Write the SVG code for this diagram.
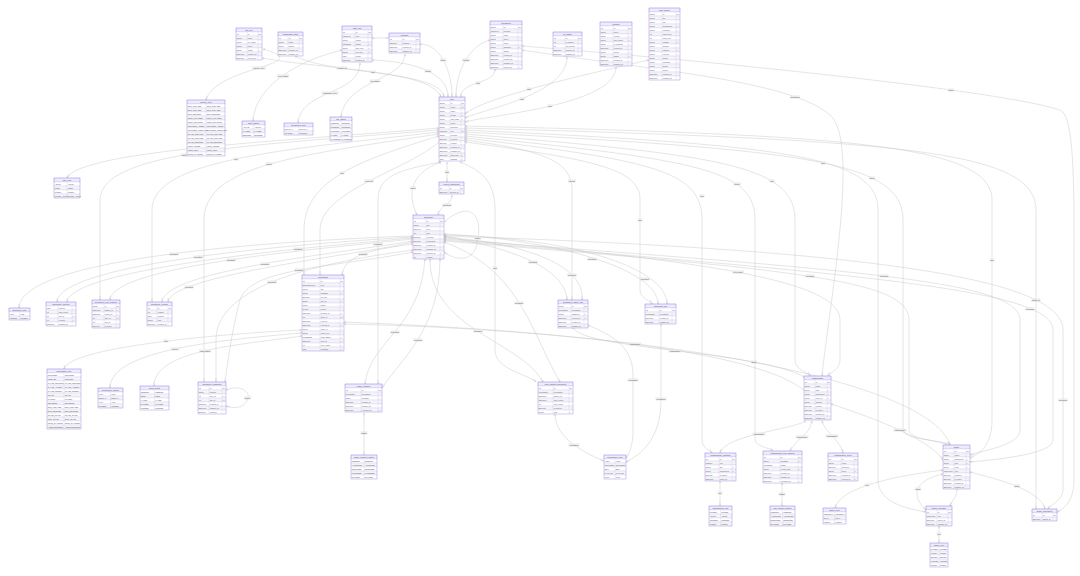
<svg xmlns="http://www.w3.org/2000/svg" width="1080" height="576" viewBox="0 0 1080 576">
<defs>
<style>
.hd{fill:#ececff;stroke:#a58be0;stroke-width:.3}
.ra{fill:#fff;stroke:#b9a4ea;stroke-width:.2}
.rb{fill:#f4f4f8;stroke:#b9a4ea;stroke-width:.2}
.cl{fill:none;stroke:#b9a4ea;stroke-width:.2}
.ob{fill:none;stroke:#9a7fdc;stroke-width:.3}
text{font-family:"Liberation Sans",Arial,sans-serif;font-size:1.8px;fill:#555}
.h{font-size:2.1px;text-anchor:middle;fill:#444}
.k{fill:#e05050}
.e{fill:none;stroke:#c4c4c4;stroke-width:.45;marker-start:url(#m1);marker-end:url(#mN)}
.lb{fill:#e8e8e8;fill-opacity:.8}
.lt{text-anchor:middle;font-size:1.9px;fill:#556}
</style>
<marker id="m1" markerUnits="userSpaceOnUse" viewBox="0 0 10 10" refX="0" refY="5" markerWidth="3" markerHeight="3" orient="auto"><path d="M3,1V9M5.5,1V9" fill="none" stroke="#aaa" stroke-width=".8"/></marker>
<marker id="mN" markerUnits="userSpaceOnUse" viewBox="0 0 14 10" refX="14" refY="5" markerWidth="4.2" markerHeight="3" orient="auto"><circle cx="4" cy="5" r="2.2" fill="#fff" stroke="#aaa" stroke-width=".7"/><path d="M14,1L8,5L14,9M8,5H14" fill="none" stroke="#aaa" stroke-width=".7"/></marker>
</defs>
<rect width="1080" height="576" fill="#fff"/>

<g id="connectors">
<path class="e" d="M263,49 C320,65 215,66 206,100"/>
<path class="e" d="M342,50 C300,60 255,85 253,121"/>
<path class="e" d="M360,63 C360,95 300,90 298,123"/>
<path class="e" d="M405,54 C405,80 345,80 341,117"/>
<path class="e" d="M262,58 C330,70 430,70 441,97"/>
<path class="e" d="M295,56 C330,75 440,70 444,97"/>
<path class="e" d="M372,60 C420,62 448,75 448,97"/>
<path class="e" d="M420,44 C440,44 452,70 452,97"/>
<path class="e" d="M490,40 C470,45 456,70 456,97"/>
<path class="e" d="M495,69 C495,85 461,80 461,97"/>
<path class="e" d="M567,57 C567,95 480,110 465,118"/>
<path class="e" d="M616,67 C616,105 490,115 465,122"/>
<path class="e" d="M372,38 L389,38"/>
<path class="e" d="M649,60 C560,80 480,100 465,114"/>
<path class="e" d="M522,50 C650,70 790,80 830,115 C860,140 830,300 822,376"/>
<path class="e" d="M522,46 C700,60 1000,90 1060,110 C1076,116 1074,200 1074,300 L1074,480 C1074,500 1065,508 1057,512"/>
<path class="e" d="M439,128 C300,140 80,150 67,178"/>
<path class="e" d="M439,130 C260,145 100,150 100,200 L100,300"/>
<path class="e" d="M439,132 C280,150 152,160 152,210 L152,302"/>
<path class="e" d="M439,134 C300,155 204,165 204,220 L204,382"/>
<path class="e" d="M439,136 C360,160 304,180 304,230 L304,275"/>
<path class="e" d="M441,140 C410,170 320,190 320,230 L320,275"/>
<path class="e" d="M447,162 L447,182"/>
<path class="e" d="M441,162 C400,170 378,175 378,200 L378,384"/>
<path class="e" d="M460,162 C480,170 495,180 495,210 L495,350 C495,370 530,375 536,382"/>
<path class="e" d="M465,140 C540,150 572,160 572,190 L572,300"/>
<path class="e" d="M465,142 C600,160 640,170 640,200 L640,290 C640,298 650,300 652,304"/>
<path class="e" d="M465,138 C650,160 702,170 702,220 L702,440 C702,448 710,450 712,453"/>
<path class="e" d="M465,136 C700,160 755,170 755,220 L755,440 C755,446 770,448 773,451"/>
<path class="e" d="M465,134 C720,155 795,165 795,220 L795,360 C795,370 808,372 810,376"/>
<path class="e" d="M465,132 C800,150 903,160 903,220 L903,430 C903,440 945,440 950,445"/>
<path class="e" d="M465,130 C780,145 878,155 878,210 L878,480 C878,505 915,510 926,512"/>
<path class="e" d="M465,128 C900,140 1036,150 1036,210 L1036,509"/>
<path class="e" d="M465,126 C850,135 992,145 992,200 L992,420 C992,450 975,455 970,458"/>
<path class="e" d="M413,236 C300,240 20,255 19,308"/>
<path class="e" d="M413,237 C310,243 60,262 57,302"/>
<path class="e" d="M413,238 C320,246 70,268 67,302"/>
<path class="e" d="M413,239 C330,248 112,265 110,300"/>
<path class="e" d="M413,241 C350,252 164,270 162,302"/>
<path class="e" d="M413,242 C360,255 170,275 168,302"/>
<path class="e" d="M413,244 C370,250 345,255 342,275"/>
<path class="e" d="M413,250 C300,265 216,290 216,340 L216,382"/>
<path class="e" d="M413,252 C330,268 250,268 240,300 C232,330 228,360 225,382"/>
<path class="e" d="M425,259 C420,330 370,340 365,384"/>
<path class="e" d="M440,259 C440,330 400,360 382,388"/>
<path class="e" d="M430,259 C430,330 520,340 543,382"/>
<path class="e" d="M444,242 C520,270 530,330 560,382"/>
<path class="e" d="M444,236 C520,250 565,270 567,300"/>
<path class="e" d="M444,237 C540,245 585,270 582,300"/>
<path class="e" d="M444,234 C560,240 658,270 658,304"/>
<path class="e" d="M444,235 C580,238 667,270 667,304"/>
<path class="e" d="M444,222 C470,200 482,215 478,238 C476,262 458,262 444,252"/>
<path class="e" d="M452,195 C452,205 440,205 438,215"/>
<path class="e" d="M441,162 C405,175 410,200 417,215"/>
<path class="e" d="M444,238 C700,260 840,280 840,320 L840,360 C840,370 830,372 828,376"/>
<path class="e" d="M444,239 C850,270 1020,280 1020,320 L1020,430 C1020,445 985,450 970,455"/>
<path class="e" d="M444,240 C870,275 1053,290 1053,330 L1053,440 C1053,455 990,460 970,462"/>
<path class="e" d="M444,236 C880,250 1063,280 1063,330 L1063,490 C1063,500 1050,505 1048,509"/>
<path class="e" d="M444,241 C800,270 909,280 909,320 L909,430 C909,440 940,440 947,445"/>
<path class="e" d="M302,330 C250,332 70,345 64,369"/>
<path class="e" d="M302,333 C220,340 110,350 110,388"/>
<path class="e" d="M302,336 C240,345 154,350 154,386"/>
<path class="e" d="M344,322 C550,330 760,350 806,392"/>
<path class="e" d="M344,324 C650,330 930,380 950,445"/>
<path class="e" d="M364,413 L364,455"/>
<path class="e" d="M226,390 C240,384 250,392 248,398 C246,406 238,410 226,406"/>
<path class="e" d="M555,414 C555,440 590,455 604,461"/>
<path class="e" d="M588,325 C610,335 633,345 633,375 L633,430 C633,448 628,455 626,458"/>
<path class="e" d="M661,324 L661,400 C661,440 640,455 626,462"/>
<path class="e" d="M573,327 C580,350 760,350 806,378"/>
<path class="e" d="M806,421 C790,430 725,435 720,453"/>
<path class="e" d="M812,421 C810,435 795,440 790,451"/>
<path class="e" d="M822,421 C825,432 840,440 843,453"/>
<path class="e" d="M831,404 C880,420 930,440 943,460"/>
<path class="e" d="M720,481 L720,506"/>
<path class="e" d="M782,483 L782,506"/>
<path class="e" d="M943,470 C880,478 840,490 835,508"/>
<path class="e" d="M943,474 C915,480 910,495 926,510"/>
<path class="e" d="M957,488 C957,498 952,500 950,506"/>
<path class="e" d="M970,472 C1000,480 1040,490 1045,509"/>
<path class="e" d="M939,526 L939,543"/>

<g id="edge-labels">
<rect class="lb" x="252" y="66.4" width="14" height="3.2"/><text class="lt" x="259" y="68.7">activity_type</text>
<rect class="lb" x="277" y="74.4" width="12" height="3.2"/><text class="lt" x="283" y="76.7">sync_status</text>
<rect class="lb" x="321.5" y="91.4" width="17" height="3.2"/><text class="lt" x="330" y="93.7">integration_type</text>
<rect class="lb" x="369.5" y="79.4" width="11" height="3.2"/><text class="lt" x="375" y="81.7">job_status</text>
<rect class="lb" x="370.5" y="70.4" width="5" height="3.2"/><text class="lt" x="373" y="72.7">user</text>
<rect class="lb" x="336.5" y="66.4" width="11" height="3.2"/><text class="lt" x="342" y="68.7">created_by</text>
<rect class="lb" x="424.5" y="69.4" width="7" height="3.2"/><text class="lt" x="428" y="71.7">author</text>
<rect class="lb" x="440" y="58.4" width="6" height="3.2"/><text class="lt" x="443" y="60.7">owner</text>
<rect class="lb" x="462" y="58.4" width="8" height="3.2"/><text class="lt" x="466" y="60.7">creator</text>
<rect class="lb" x="475.5" y="81.4" width="5" height="3.2"/><text class="lt" x="478" y="83.7">user</text>
<rect class="lb" x="519.5" y="97.4" width="5" height="3.2"/><text class="lt" x="522" y="99.7">user</text>
<rect class="lb" x="547.5" y="104.4" width="5" height="3.2"/><text class="lt" x="550" y="106.7">user</text>
<rect class="lb" x="526.5" y="87.4" width="5" height="3.2"/><text class="lt" x="529" y="89.7">user</text>
<rect class="lb" x="790" y="95.4" width="10" height="3.2"/><text class="lt" x="795" y="97.7">workspace</text>
<rect class="lb" x="948" y="88.4" width="6" height="3.2"/><text class="lt" x="951" y="90.7">owner</text>
<rect class="lb" x="203.5" y="145.4" width="5" height="3.2"/><text class="lt" x="206" y="147.7">user</text>
<rect class="lb" x="180.5" y="153.4" width="7" height="3.2"/><text class="lt" x="184" y="155.7">editor</text>
<rect class="lb" x="233.5" y="157.4" width="5" height="3.2"/><text class="lt" x="236" y="159.7">user</text>
<rect class="lb" x="265.5" y="162.4" width="7" height="3.2"/><text class="lt" x="269" y="164.7">author</text>
<rect class="lb" x="339.5" y="171.4" width="5" height="3.2"/><text class="lt" x="342" y="173.7">user</text>
<rect class="lb" x="364" y="179.4" width="10" height="3.2"/><text class="lt" x="369" y="181.7">recipient</text>
<rect class="lb" x="444.5" y="170.4" width="5" height="3.2"/><text class="lt" x="447" y="172.7">user</text>
<rect class="lb" x="373" y="242.4" width="10" height="3.2"/><text class="lt" x="378" y="244.7">requester</text>
<rect class="lb" x="492.5" y="266.4" width="5" height="3.2"/><text class="lt" x="495" y="268.7">user</text>
<rect class="lb" x="568" y="179.4" width="8" height="3.2"/><text class="lt" x="572" y="181.7">creator</text>
<rect class="lb" x="637.5" y="218.4" width="5" height="3.2"/><text class="lt" x="640" y="220.7">user</text>
<rect class="lb" x="699.5" y="194.4" width="5" height="3.2"/><text class="lt" x="702" y="196.7">user</text>
<rect class="lb" x="733" y="182.4" width="8" height="3.2"/><text class="lt" x="737" y="184.7">inviter</text>
<rect class="lb" x="769.5" y="179.4" width="5" height="3.2"/><text class="lt" x="772" y="181.7">user</text>
<rect class="lb" x="869" y="176.4" width="6" height="3.2"/><text class="lt" x="872" y="178.7">owner</text>
<rect class="lb" x="820.5" y="161.4" width="5" height="3.2"/><text class="lt" x="823" y="163.7">user</text>
<rect class="lb" x="1031.5" y="298.4" width="9" height="3.2"/><text class="lt" x="1036" y="300.7">added_by</text>
<rect class="lb" x="989.5" y="258.4" width="5" height="3.2"/><text class="lt" x="992" y="260.7">user</text>
<rect class="lb" x="169.5" y="252.4" width="9" height="3.2"/><text class="lt" x="174" y="254.7">document</text>
<rect class="lb" x="193.5" y="255.4" width="9" height="3.2"/><text class="lt" x="198" y="257.7">document</text>
<rect class="lb" x="293.5" y="247.4" width="9" height="3.2"/><text class="lt" x="298" y="249.7">document</text>
<rect class="lb" x="226.5" y="258.4" width="9" height="3.2"/><text class="lt" x="231" y="260.7">document</text>
<rect class="lb" x="260.5" y="262.4" width="9" height="3.2"/><text class="lt" x="265" y="264.7">document</text>
<rect class="lb" x="184.5" y="285.4" width="9" height="3.2"/><text class="lt" x="189" y="287.7">document</text>
<rect class="lb" x="358.5" y="252.4" width="9" height="3.2"/><text class="lt" x="363" y="254.7">document</text>
<rect class="lb" x="267.5" y="280.4" width="9" height="3.2"/><text class="lt" x="272" y="282.7">document</text>
<rect class="lb" x="294.5" y="268.4" width="9" height="3.2"/><text class="lt" x="299" y="270.7">document</text>
<rect class="lb" x="390.5" y="330.4" width="9" height="3.2"/><text class="lt" x="395" y="332.7">document</text>
<rect class="lb" x="413.5" y="338.4" width="9" height="3.2"/><text class="lt" x="418" y="340.7">document</text>
<rect class="lb" x="473.5" y="329.4" width="9" height="3.2"/><text class="lt" x="478" y="331.7">document</text>
<rect class="lb" x="514.5" y="301.4" width="9" height="3.2"/><text class="lt" x="519" y="303.7">document</text>
<rect class="lb" x="528.5" y="260.4" width="9" height="3.2"/><text class="lt" x="533" y="262.7">document</text>
<rect class="lb" x="567.5" y="273.4" width="9" height="3.2"/><text class="lt" x="572" y="275.7">document</text>
<rect class="lb" x="587.5" y="257.4" width="9" height="3.2"/><text class="lt" x="592" y="259.7">document</text>
<rect class="lb" x="640.5" y="277.4" width="9" height="3.2"/><text class="lt" x="645" y="279.7">document</text>
<rect class="lb" x="474" y="236.4" width="7" height="3.2"/><text class="lt" x="477.5" y="238.7">parent</text>
<rect class="lb" x="442.5" y="203.4" width="9" height="3.2"/><text class="lt" x="447" y="205.7">document</text>
<rect class="lb" x="410" y="186.4" width="6" height="3.2"/><text class="lt" x="413" y="188.7">owner</text>
<rect class="lb" x="732" y="270.4" width="12" height="3.2"/><text class="lt" x="738" y="272.7">root_folder</text>
<rect class="lb" x="879.5" y="274.4" width="9" height="3.2"/><text class="lt" x="884" y="276.7">document</text>
<rect class="lb" x="1025.5" y="307.4" width="9" height="3.2"/><text class="lt" x="1030" y="309.7">document</text>
<rect class="lb" x="1058.5" y="398.4" width="9" height="3.2"/><text class="lt" x="1063" y="400.7">document</text>
<rect class="lb" x="805.5" y="274.4" width="9" height="3.2"/><text class="lt" x="810" y="276.7">document</text>
<rect class="lb" x="163.5" y="339.4" width="5" height="3.2"/><text class="lt" x="166" y="341.7">type</text>
<rect class="lb" x="170.5" y="347.4" width="9" height="3.2"/><text class="lt" x="175" y="349.7">priority</text>
<rect class="lb" x="199" y="349.4" width="12" height="3.2"/><text class="lt" x="205" y="351.7">push_status</text>
<rect class="lb" x="628.5" y="342.4" width="13" height="3.2"/><text class="lt" x="635" y="344.7">organization</text>
<rect class="lb" x="751" y="360.4" width="6" height="3.2"/><text class="lt" x="754" y="362.7">space</text>
<rect class="lb" x="360.5" y="431.4" width="7" height="3.2"/><text class="lt" x="364" y="433.7">status</text>
<rect class="lb" x="244" y="396.4" width="7" height="3.2"/><text class="lt" x="247.5" y="398.7">parent</text>
<rect class="lb" x="568.5" y="443.4" width="11" height="3.2"/><text class="lt" x="574" y="445.7">permission</text>
<rect class="lb" x="627.5" y="378.4" width="11" height="3.2"/><text class="lt" x="633" y="380.7">permission</text>
<rect class="lb" x="655.5" y="397.4" width="11" height="3.2"/><text class="lt" x="661" y="399.7">permission</text>
<rect class="lb" x="668.5" y="349.4" width="13" height="3.2"/><text class="lt" x="675" y="351.7">organization</text>
<rect class="lb" x="752.5" y="432.4" width="13" height="3.2"/><text class="lt" x="759" y="434.7">organization</text>
<rect class="lb" x="795.5" y="435.4" width="13" height="3.2"/><text class="lt" x="802" y="437.7">organization</text>
<rect class="lb" x="825.5" y="434.4" width="13" height="3.2"/><text class="lt" x="832" y="436.7">organization</text>
<rect class="lb" x="893.5" y="428.4" width="13" height="3.2"/><text class="lt" x="900" y="430.7">organization</text>
<rect class="lb" x="717.5" y="491.4" width="5" height="3.2"/><text class="lt" x="720" y="493.7">role</text>
<rect class="lb" x="778.5" y="492.4" width="7" height="3.2"/><text class="lt" x="782" y="494.7">status</text>
<rect class="lb" x="864.5" y="483.4" width="5" height="3.2"/><text class="lt" x="867" y="485.7">type</text>
<rect class="lb" x="915" y="487.4" width="6" height="3.2"/><text class="lt" x="918" y="489.7">space</text>
<rect class="lb" x="1014" y="484.4" width="6" height="3.2"/><text class="lt" x="1017" y="486.7">space</text>
<rect class="lb" x="936.5" y="532.4" width="5" height="3.2"/><text class="lt" x="939" y="534.7">role</text>
</g>
</g>

<g id="user" transform="translate(439,97)">
<rect class="hd" width="26" height="4"/><text class="h" x="13" y="3">user</text>
<rect class="ra" y="4" width="26" height="4"/><text x=".8" y="6.9">String</text><text x="11.8" y="6.9">id</text><text x="22.6" y="6.9">PK</text>
<rect class="rb" y="8" width="26" height="4"/><text x=".8" y="10.9">String</text><text x="11.8" y="10.9">email</text><text class="k" x="22.6" y="10.9">UK</text>
<rect class="ra" y="12" width="26" height="4"/><text x=".8" y="14.9">String</text><text x="11.8" y="14.9">name</text>
<rect class="rb" y="16" width="26" height="4"/><text x=".8" y="18.9">String</text><text x="11.8" y="18.9">avatar</text><text class="k" x="22.6" y="18.9">?</text>
<rect class="ra" y="20" width="26" height="4"/><text x=".8" y="22.9">String</text><text x="11.8" y="22.9">pwd_hash</text><text class="k" x="22.6" y="22.9">?</text>
<rect class="rb" y="24" width="26" height="4"/><text x=".8" y="26.9">String</text><text x="11.8" y="26.9">locale</text>
<rect class="ra" y="28" width="26" height="4"/><text x=".8" y="30.9">String</text><text x="11.8" y="30.9">timezone</text>
<rect class="rb" y="32" width="26" height="4"/><text x=".8" y="34.9">UserRole</text><text x="11.8" y="34.9">role</text><text class="k" x="22.6" y="34.9">FK</text>
<rect class="ra" y="36" width="26" height="4"/><text x=".8" y="38.9">String</text><text x="11.8" y="38.9">provider</text>
<rect class="rb" y="40" width="26" height="4"/><text x=".8" y="42.9">Boolean</text><text x="11.8" y="42.9">is_active</text>
<rect class="ra" y="44" width="26" height="4"/><text x=".8" y="46.9">Boolean</text><text x="11.8" y="46.9">verified</text>
<rect class="rb" y="48" width="26" height="4"/><text x=".8" y="50.9">DateTime</text><text x="11.8" y="50.9">created_at</text>
<rect class="ra" y="52" width="26" height="4"/><text x=".8" y="54.9">DateTime</text><text x="11.8" y="54.9">updated_at</text>
<rect class="rb" y="56" width="26" height="4"/><text x=".8" y="58.9">DateTime</text><text x="11.8" y="58.9">last_login</text><text class="k" x="22.6" y="58.9">?</text>
<rect class="ra" y="60" width="26" height="4"/><text x=".8" y="62.9">Json</text><text x="11.8" y="62.9">settings</text><text class="k" x="22.6" y="62.9">?</text>
<path class="cl" d="M11,4V64M22,4V64"/><rect class="ob" width="26" height="64"/>
</g>

<g id="document" transform="translate(413,215)">
<rect class="hd" width="31" height="4"/><text class="h" x="15.5" y="3">document</text>
<rect class="ra" y="4" width="31" height="4"/><text x=".8" y="6.9">Int</text><text x="13.8" y="6.9">id</text><text x="27.6" y="6.9">PK</text>
<rect class="rb" y="8" width="31" height="4"/><text x=".8" y="10.9">String</text><text x="13.8" y="10.9">title</text>
<rect class="ra" y="12" width="31" height="4"/><text x=".8" y="14.9">DocType</text><text x="13.8" y="14.9">type</text>
<rect class="rb" y="16" width="31" height="4"/><text x=".8" y="18.9">Int</text><text x="13.8" y="18.9">size</text>
<rect class="ra" y="20" width="31" height="4"/><text x=".8" y="22.9">Boolean</text><text x="13.8" y="22.9">is_folder</text>
<rect class="rb" y="24" width="31" height="4"/><text x=".8" y="26.9">Boolean</text><text x="13.8" y="26.9">is_deleted</text>
<rect class="ra" y="28" width="31" height="4"/><text x=".8" y="30.9">DateTime</text><text x="13.8" y="30.9">created_at</text>
<rect class="rb" y="32" width="31" height="4"/><text x=".8" y="34.9">DateTime</text><text x="13.8" y="34.9">updated_at</text>
<rect class="ra" y="36" width="31" height="4"/><text x=".8" y="38.9">DateTime</text><text x="13.8" y="38.9">deleted_at</text><text class="k" x="27.6" y="38.9">?</text>
<rect class="rb" y="40" width="31" height="4"/><text x=".8" y="42.9">Int</text><text x="13.8" y="42.9">version</text>
<path class="cl" d="M13,4V44M27,4V44"/><rect class="ob" width="31" height="44"/>
</g>

<g id="recent_document" transform="translate(439,182)">
<rect class="hd" width="25" height="4"/><text class="h" x="12.5" y="3">recent_document</text>
<rect class="ra" y="4" width="25" height="4"/><text x=".8" y="6.9">Int</text><text x="10.8" y="6.9">id</text><text x="21.6" y="6.9">PK</text>
<rect class="rb" y="8" width="25" height="4"/><text x=".8" y="10.9">DateTime</text><text x="10.8" y="10.9">opened_at</text>
<path class="cl" d="M10,4V12M21,4V12"/><rect class="ob" width="25" height="12"/>
</g>

<g id="notification" transform="translate(302,275)">
<rect class="hd" width="42" height="4"/><text class="h" x="21" y="3">notification</text>
<rect class="ra" y="4" width="42" height="4"/><text x=".8" y="6.9">Int</text><text x="18.8" y="6.9">id</text><text x="38.6" y="6.9">PK</text>
<rect class="rb" y="8" width="42" height="4"/><text x=".8" y="10.9">NotificationType</text><text x="18.8" y="10.9">type</text>
<rect class="ra" y="12" width="42" height="4"/><text x=".8" y="14.9">String</text><text x="18.8" y="14.9">title</text>
<rect class="rb" y="16" width="42" height="4"/><text x=".8" y="18.9">String</text><text x="18.8" y="18.9">message</text><text class="k" x="38.6" y="18.9">?</text>
<rect class="ra" y="20" width="42" height="4"/><text x=".8" y="22.9">Boolean</text><text x="18.8" y="22.9">is_read</text>
<rect class="rb" y="24" width="42" height="4"/><text x=".8" y="26.9">String</text><text x="18.8" y="26.9">link_url</text><text class="k" x="38.6" y="26.9">?</text>
<rect class="ra" y="28" width="42" height="4"/><text x=".8" y="30.9">String</text><text x="18.8" y="30.9">action</text><text class="k" x="38.6" y="30.9">?</text>
<rect class="rb" y="32" width="42" height="4"/><text x=".8" y="34.9">Priority</text><text x="18.8" y="34.9">priority</text>
<rect class="ra" y="36" width="42" height="4"/><text x=".8" y="38.9">DateTime</text><text x="18.8" y="38.9">created_at</text><text class="k" x="38.6" y="38.9">?</text>
<rect class="rb" y="40" width="42" height="4"/><text x=".8" y="42.9">Int</text><text x="18.8" y="42.9">actor_id</text><text class="k" x="38.6" y="42.9">FK</text>
<rect class="ra" y="44" width="42" height="4"/><text x=".8" y="46.9">DateTime</text><text x="18.8" y="46.9">read_at</text>
<rect class="rb" y="48" width="42" height="4"/><text x=".8" y="50.9">DateTime</text><text x="18.8" y="50.9">expires_at</text><text class="k" x="38.6" y="50.9">?</text>
<rect class="ra" y="52" width="42" height="4"/><text x=".8" y="54.9">String</text><text x="18.8" y="54.9">entity_id</text><text class="k" x="38.6" y="54.9">?</text>
<rect class="rb" y="56" width="42" height="4"/><text x=".8" y="58.9">String</text><text x="18.8" y="58.9">entity_type</text>
<rect class="ra" y="60" width="42" height="4"/><text x=".8" y="62.9">PushStatus</text><text x="18.8" y="62.9">push_status</text><text class="k" x="38.6" y="62.9">?</text>
<rect class="rb" y="64" width="42" height="4"/><text x=".8" y="66.9">DateTime</text><text x="18.8" y="66.9">sent_at</text><text class="k" x="38.6" y="66.9">?</text>
<rect class="ra" y="68" width="42" height="4"/><text x=".8" y="70.9">Int</text><text x="18.8" y="70.9">retry_count</text><text class="k" x="38.6" y="70.9">?</text>
<rect class="rb" y="72" width="42" height="4"/><text x=".8" y="74.9">Json</text><text x="18.8" y="74.9">metadata</text><text class="k" x="38.6" y="74.9">?</text>
<path class="cl" d="M18,4V76M38,4V76"/><rect class="ob" width="42" height="76"/>
</g>

<g id="document_type" transform="translate(9,308)">
<rect class="hd" width="21" height="4"/><text class="h" x="10.5" y="3">document_type</text>
<rect class="ra" y="4" width="21" height="4"/><text x=".8" y="6.9">FILE</text><text x="11.3" y="6.9">FILE</text>
<rect class="rb" y="8" width="21" height="4"/><text x=".8" y="10.9">FOLDER</text><text x="11.3" y="10.9">FOLDER</text>
<path class="cl" d="M10.5,4V12"/><rect class="ob" width="21" height="12"/>
</g>

<g id="document_content" transform="translate(46,302)">
<rect class="hd" width="30" height="4"/><text class="h" x="15" y="3">document_content</text>
<rect class="ra" y="4" width="30" height="4"/><text x=".8" y="6.9">Json</text><text x="12.8" y="6.9">content</text>
<rect class="rb" y="8" width="30" height="4"/><text x=".8" y="10.9">Int</text><text x="12.8" y="10.9">char_count</text>
<rect class="ra" y="12" width="30" height="4"/><text x=".8" y="14.9">Int</text><text x="12.8" y="14.9">doc_id</text><text class="k" x="26.6" y="14.9">FK</text>
<rect class="rb" y="16" width="30" height="4"/><text x=".8" y="18.9">Int</text><text x="12.8" y="18.9">revision</text><text class="k" x="26.6" y="18.9">?</text>
<rect class="ra" y="20" width="30" height="4"/><text x=".8" y="22.9">DateTime</text><text x="12.8" y="22.9">updated_at</text>
<path class="cl" d="M12,4V24M26,4V24"/><rect class="ob" width="30" height="24"/>
</g>

<g id="document_edit_session" transform="translate(92,300)">
<rect class="hd" width="28" height="4"/><text class="h" x="14" y="3">document_edit_session</text>
<rect class="ra" y="4" width="28" height="4"/><text x=".8" y="6.9">String</text><text x="12.8" y="6.9">id</text><text x="24.6" y="6.9">PK</text>
<rect class="rb" y="8" width="28" height="4"/><text x=".8" y="10.9">DateTime</text><text x="12.8" y="10.9">started_at</text><text class="k" x="24.6" y="10.9">?</text>
<rect class="ra" y="12" width="28" height="4"/><text x=".8" y="14.9">DateTime</text><text x="12.8" y="14.9">ended_at</text><text class="k" x="24.6" y="14.9">?</text>
<rect class="rb" y="16" width="28" height="4"/><text x=".8" y="18.9">Int</text><text x="12.8" y="18.9">user_id</text><text class="k" x="24.6" y="18.9">FK</text>
<rect class="ra" y="20" width="28" height="4"/><text x=".8" y="22.9">Int</text><text x="12.8" y="22.9">doc_id</text>
<rect class="rb" y="24" width="28" height="4"/><text x=".8" y="26.9">Boolean</text><text x="12.8" y="26.9">is_active</text>
<path class="cl" d="M12,4V28M24,4V28"/><rect class="ob" width="28" height="28"/>
</g>

<g id="document_version" transform="translate(147,302)">
<rect class="hd" width="25" height="4"/><text class="h" x="12.5" y="3">document_version</text>
<rect class="ra" y="4" width="25" height="4"/><text x=".8" y="6.9">Int</text><text x="10.8" y="6.9">id</text><text x="21.6" y="6.9">PK</text>
<rect class="rb" y="8" width="25" height="4"/><text x=".8" y="10.9">Int</text><text x="10.8" y="10.9">version</text>
<rect class="ra" y="12" width="25" height="4"/><text x=".8" y="14.9">Json</text><text x="10.8" y="14.9">content</text>
<rect class="rb" y="16" width="25" height="4"/><text x=".8" y="18.9">String</text><text x="10.8" y="18.9">note</text>
<rect class="ra" y="20" width="25" height="4"/><text x=".8" y="22.9">DateTime</text><text x="10.8" y="22.9">created_at</text>
<path class="cl" d="M10,4V24M21,4V24"/><rect class="ob" width="25" height="24"/>
</g>

<g id="user_role" transform="translate(54,178)">
<rect class="hd" width="26" height="4"/><text class="h" x="13" y="3">user_role</text>
<rect class="ra" y="4" width="26" height="4"/><text x=".8" y="6.9">ADMIN</text><text x="13.8" y="6.9">ADMIN</text>
<rect class="rb" y="8" width="26" height="4"/><text x=".8" y="10.9">USER</text><text x="13.8" y="10.9">USER</text>
<rect class="ra" y="12" width="26" height="4"/><text x=".8" y="14.9">GUEST</text><text x="13.8" y="14.9">GUEST</text>
<rect class="rb" y="16" width="26" height="4"/><text x=".8" y="18.9">SUPER_ADMIN</text><text x="13.8" y="18.9">SUPER_ADMIN</text>
<path class="cl" d="M13,4V20"/><rect class="ob" width="26" height="20"/>
</g>

<g id="activity_type" transform="translate(187,100)">
<rect class="hd" width="38" height="4"/><text class="h" x="19" y="3">activity_type</text>
<rect class="ra" y="4" width="38" height="4"/><text x=".8" y="6.9">DOC_CREATED</text><text x="19.8" y="6.9">DOC_CREATED</text>
<rect class="rb" y="8" width="38" height="4"/><text x=".8" y="10.9">DOC_UPDATED</text><text x="19.8" y="10.9">DOC_UPDATED</text>
<rect class="ra" y="12" width="38" height="4"/><text x=".8" y="14.9">DOC_DELETED</text><text x="19.8" y="14.9">DOC_DELETED</text>
<rect class="rb" y="16" width="38" height="4"/><text x=".8" y="18.9">PERM_GRANTED</text><text x="19.8" y="18.9">PERM_GRANTED</text>
<rect class="ra" y="20" width="38" height="4"/><text x=".8" y="22.9">PERM_REVOKED</text><text x="19.8" y="22.9">PERM_REVOKED</text>
<rect class="rb" y="24" width="38" height="4"/><text x=".8" y="26.9">COMMENT_ADDED</text><text x="19.8" y="26.9">COMMENT_ADDED</text>
<rect class="ra" y="28" width="38" height="4"/><text x=".8" y="30.9">COMMENT_RESOLVED</text><text x="19.8" y="30.9">COMMENT_RESOLVED</text>
<rect class="rb" y="32" width="38" height="4"/><text x=".8" y="34.9">SPACE_CREATED</text><text x="19.8" y="34.9">SPACE_CREATED</text>
<rect class="ra" y="36" width="38" height="4"/><text x=".8" y="38.9">SPACE_UPDATED</text><text x="19.8" y="38.9">SPACE_UPDATED</text>
<rect class="rb" y="40" width="38" height="4"/><text x=".8" y="42.9">SPACE_DELETED</text><text x="19.8" y="42.9">SPACE_DELETED</text>
<rect class="ra" y="44" width="38" height="4"/><text x=".8" y="46.9">USER_JOINED</text><text x="19.8" y="46.9">USER_JOINED</text>
<rect class="rb" y="48" width="38" height="4"/><text x=".8" y="50.9">USER_LEFT</text><text x="19.8" y="50.9">USER_LEFT</text>
<rect class="ra" y="52" width="38" height="4"/><text x=".8" y="54.9">ROLE_CHANGED</text><text x="19.8" y="54.9">ROLE_CHANGED</text>
<path class="cl" d="M19,4V56"/><rect class="ob" width="38" height="56"/>
</g>

<g id="sync_status" transform="translate(242,121)">
<rect class="hd" width="23" height="4"/><text class="h" x="11.5" y="3">sync_status</text>
<rect class="ra" y="4" width="23" height="4"/><text x=".8" y="6.9">ACTIVE</text><text x="12.3" y="6.9">ACTIVE</text>
<rect class="rb" y="8" width="23" height="4"/><text x=".8" y="10.9">PAUSED</text><text x="12.3" y="10.9">PAUSED</text>
<rect class="ra" y="12" width="23" height="4"/><text x=".8" y="14.9">DELETED</text><text x="12.3" y="14.9">DELETED</text>
<path class="cl" d="M11.5,4V16"/><rect class="ob" width="23" height="16"/>
</g>

<g id="integration_type" transform="translate(284,123)">
<rect class="hd" width="29" height="4"/><text class="h" x="14.5" y="3">integration_type</text>
<rect class="ra" y="4" width="29" height="4"/><text x=".8" y="6.9">OFFICIAL</text><text x="15.3" y="6.9">OFFICIAL</text>
<rect class="rb" y="8" width="29" height="4"/><text x=".8" y="10.9">CUSTOM</text><text x="15.3" y="10.9">CUSTOM</text>
<path class="cl" d="M14.5,4V12"/><rect class="ob" width="29" height="12"/>
</g>

<g id="job_status" transform="translate(330,117)">
<rect class="hd" width="22" height="4"/><text class="h" x="11" y="3">job_status</text>
<rect class="ra" y="4" width="22" height="4"/><text x=".8" y="6.9">PENDING</text><text x="11.8" y="6.9">PENDING</text>
<rect class="rb" y="8" width="22" height="4"/><text x=".8" y="10.9">RUNNING</text><text x="11.8" y="10.9">RUNNING</text>
<rect class="ra" y="12" width="22" height="4"/><text x=".8" y="14.9">SUCCESS</text><text x="11.8" y="14.9">SUCCESS</text>
<rect class="rb" y="16" width="22" height="4"/><text x=".8" y="18.9">FAILED</text><text x="11.8" y="18.9">FAILED</text>
<rect class="ra" y="20" width="22" height="4"/><text x=".8" y="22.9">CANCELED</text><text x="11.8" y="22.9">CANCELED</text>
<path class="cl" d="M11,4V24"/><rect class="ob" width="22" height="24"/>
</g>

<g id="api_key" transform="translate(236,28)">
<rect class="hd" width="26" height="4"/><text class="h" x="13" y="3">api_key</text>
<rect class="ra" y="4" width="26" height="4"/><text x=".8" y="6.9">Int</text><text x="11.8" y="6.9">id</text><text x="22.6" y="6.9">PK</text>
<rect class="rb" y="8" width="26" height="4"/><text x=".8" y="10.9">String</text><text x="11.8" y="10.9">name</text>
<rect class="ra" y="12" width="26" height="4"/><text x=".8" y="14.9">String</text><text x="11.8" y="14.9">key_hash</text>
<rect class="rb" y="16" width="26" height="4"/><text x=".8" y="18.9">String</text><text x="11.8" y="18.9">prefix</text>
<rect class="ra" y="20" width="26" height="4"/><text x=".8" y="22.9">BigInt</text><text x="11.8" y="22.9">usage</text><text class="k" x="22.6" y="22.9">?</text>
<rect class="rb" y="24" width="26" height="4"/><text x=".8" y="26.9">DateTime</text><text x="11.8" y="26.9">created_at</text>
<rect class="ra" y="28" width="26" height="4"/><text x=".8" y="30.9">DateTime</text><text x="11.8" y="30.9">expires_at</text>
<path class="cl" d="M11,4V32M22,4V32"/><rect class="ob" width="26" height="32"/>
</g>

<g id="knowledge_base" transform="translate(278,32)">
<rect class="hd" width="25" height="4"/><text class="h" x="12.5" y="3">knowledge_base</text>
<rect class="ra" y="4" width="25" height="4"/><text x=".8" y="6.9">Int</text><text x="10.8" y="6.9">id</text><text x="21.6" y="6.9">PK</text>
<rect class="rb" y="8" width="25" height="4"/><text x=".8" y="10.9">String</text><text x="10.8" y="10.9">name</text>
<rect class="ra" y="12" width="25" height="4"/><text x=".8" y="14.9">String</text><text x="10.8" y="14.9">source</text>
<rect class="rb" y="16" width="25" height="4"/><text x=".8" y="18.9">DateTime</text><text x="10.8" y="18.9">created_at</text>
<rect class="ra" y="20" width="25" height="4"/><text x=".8" y="22.9">DateTime</text><text x="10.8" y="22.9">updated_at</text>
<path class="cl" d="M10,4V24M21,4V24"/><rect class="ob" width="25" height="24"/>
</g>

<g id="sync_job" transform="translate(342,26)">
<rect class="hd" width="30" height="4"/><text class="h" x="15" y="3">sync_job</text>
<rect class="ra" y="4" width="30" height="4"/><text x=".8" y="6.9">Int</text><text x="13.8" y="6.9">id</text><text x="26.6" y="6.9">PK</text>
<rect class="rb" y="8" width="30" height="4"/><text x=".8" y="10.9">IntegType</text><text x="13.8" y="10.9">type</text>
<rect class="ra" y="12" width="30" height="4"/><text x=".8" y="14.9">String</text><text x="13.8" y="14.9">cursor</text>
<rect class="rb" y="16" width="30" height="4"/><text x=".8" y="18.9">JobStatus</text><text x="13.8" y="18.9">status</text><text class="k" x="26.6" y="18.9">?</text>
<rect class="ra" y="20" width="30" height="4"/><text x=".8" y="22.9">String</text><text x="13.8" y="22.9">last_error</text><text class="k" x="26.6" y="22.9">?</text>
<rect class="rb" y="24" width="30" height="4"/><text x=".8" y="26.9">String</text><text x="13.8" y="26.9">next_run</text><text class="k" x="26.6" y="26.9">?</text>
<rect class="ra" y="28" width="30" height="4"/><text x=".8" y="30.9">Json</text><text x="13.8" y="30.9">config</text>
<rect class="rb" y="32" width="30" height="4"/><text x=".8" y="34.9">DateTime</text><text x="13.8" y="34.9">created_at</text>
<path class="cl" d="M13,4V36M26,4V36"/><rect class="ob" width="30" height="36"/>
</g>

<g id="template" transform="translate(389,33)">
<rect class="hd" width="31" height="4"/><text class="h" x="15.5" y="3">template</text>
<rect class="ra" y="4" width="31" height="4"/><text x=".8" y="6.9">Int</text><text x="13.8" y="6.9">id</text><text x="27.6" y="6.9">PK</text>
<rect class="rb" y="8" width="31" height="4"/><text x=".8" y="10.9">Category</text><text x="13.8" y="10.9">category</text>
<rect class="ra" y="12" width="31" height="4"/><text x=".8" y="14.9">DateTime</text><text x="13.8" y="14.9">created_at</text>
<rect class="rb" y="16" width="31" height="4"/><text x=".8" y="18.9">DateTime</text><text x="13.8" y="18.9">updated_at</text>
<path class="cl" d="M13,4V20M27,4V20"/><rect class="ob" width="31" height="20"/>
</g>

<g id="integration" transform="translate(490,21)">
<rect class="hd" width="32" height="4"/><text class="h" x="16" y="3">integration</text>
<rect class="ra" y="4" width="32" height="4"/><text x=".8" y="6.9">String</text><text x="13.8" y="6.9">id</text><text x="28.6" y="6.9">PK</text>
<rect class="rb" y="8" width="32" height="4"/><text x=".8" y="10.9">IntegType</text><text x="13.8" y="10.9">provider</text>
<rect class="ra" y="12" width="32" height="4"/><text x=".8" y="14.9">String</text><text x="13.8" y="14.9">name</text>
<rect class="rb" y="16" width="32" height="4"/><text x=".8" y="18.9">String</text><text x="13.8" y="18.9">token</text>
<rect class="ra" y="20" width="32" height="4"/><text x=".8" y="22.9">String</text><text x="13.8" y="22.9">scope</text>
<rect class="rb" y="24" width="32" height="4"/><text x=".8" y="26.9">String</text><text x="13.8" y="26.9">webhook</text><text class="k" x="28.6" y="26.9">?</text>
<rect class="ra" y="28" width="32" height="4"/><text x=".8" y="30.9">String</text><text x="13.8" y="30.9">status</text>
<rect class="rb" y="32" width="32" height="4"/><text x=".8" y="34.9">DateTime</text><text x="13.8" y="34.9">expires_at</text>
<rect class="ra" y="36" width="32" height="4"/><text x=".8" y="38.9">DateTime</text><text x="13.8" y="38.9">created_at</text>
<rect class="rb" y="40" width="32" height="4"/><text x=".8" y="42.9">DateTime</text><text x="13.8" y="42.9">updated_at</text>
<rect class="ra" y="44" width="32" height="4"/><text x=".8" y="46.9">DateTime</text><text x="13.8" y="46.9">synced_at</text><text class="k" x="28.6" y="46.9">?</text>
<path class="cl" d="M13,4V48M28,4V48"/><rect class="ob" width="32" height="48"/>
</g>

<g id="ai_usage" transform="translate(553,32)">
<rect class="hd" width="29" height="4"/><text class="h" x="14.5" y="3">ai_usage</text>
<rect class="ra" y="4" width="29" height="4"/><text x=".8" y="6.9">Int</text><text x="12.8" y="6.9">id</text><text x="25.6" y="6.9">PK</text>
<rect class="rb" y="8" width="29" height="4"/><text x=".8" y="10.9">Int</text><text x="12.8" y="10.9">in_tokens</text>
<rect class="ra" y="12" width="29" height="4"/><text x=".8" y="14.9">Int</text><text x="12.8" y="14.9">out_tokens</text>
<rect class="rb" y="16" width="29" height="4"/><text x=".8" y="18.9">DateTime</text><text x="12.8" y="18.9">created_at</text>
<rect class="ra" y="20" width="29" height="4"/><text x=".8" y="22.9">DateTime</text><text x="12.8" y="22.9">updated_at</text>
<path class="cl" d="M12,4V24M25,4V24"/><rect class="ob" width="29" height="24"/>
</g>

<g id="session" transform="translate(600,22)">
<rect class="hd" width="32" height="4"/><text class="h" x="16" y="3">session</text>
<rect class="ra" y="4" width="32" height="4"/><text x=".8" y="6.9">Int</text><text x="13.8" y="6.9">id</text><text x="28.6" y="6.9">PK</text>
<rect class="rb" y="8" width="32" height="4"/><text x=".8" y="10.9">String</text><text x="13.8" y="10.9">token</text>
<rect class="ra" y="12" width="32" height="4"/><text x=".8" y="14.9">String</text><text x="13.8" y="14.9">refresh</text><text class="k" x="28.6" y="14.9">?</text>
<rect class="rb" y="16" width="32" height="4"/><text x=".8" y="18.9">String</text><text x="13.8" y="18.9">user_agent</text><text class="k" x="28.6" y="18.9">?</text>
<rect class="ra" y="20" width="32" height="4"/><text x=".8" y="22.9">String</text><text x="13.8" y="22.9">ip_address</text><text class="k" x="28.6" y="22.9">?</text>
<rect class="rb" y="24" width="32" height="4"/><text x=".8" y="26.9">DateTime</text><text x="13.8" y="26.9">expires_at</text>
<rect class="ra" y="28" width="32" height="4"/><text x=".8" y="30.9">String</text><text x="13.8" y="30.9">device</text><text class="k" x="28.6" y="30.9">?</text>
<rect class="rb" y="32" width="32" height="4"/><text x=".8" y="34.9">String</text><text x="13.8" y="34.9">status</text><text class="k" x="28.6" y="34.9">?</text>
<rect class="ra" y="36" width="32" height="4"/><text x=".8" y="38.9">DateTime</text><text x="13.8" y="38.9">created_at</text>
<rect class="rb" y="40" width="32" height="4"/><text x=".8" y="42.9">DateTime</text><text x="13.8" y="42.9">updated_at</text>
<path class="cl" d="M13,4V44M28,4V44"/><rect class="ob" width="32" height="44"/>
</g>

<g id="user_profile" transform="translate(649,8)">
<rect class="hd" width="31" height="4"/><text class="h" x="15.5" y="3">user_profile</text>
<rect class="ra" y="4" width="31" height="4"/><text x=".8" y="6.9">String</text><text x="13.8" y="6.9">id</text><text x="27.6" y="6.9">PK</text>
<rect class="rb" y="8" width="31" height="4"/><text x=".8" y="10.9">String</text><text x="13.8" y="10.9">bio</text>
<rect class="ra" y="12" width="31" height="4"/><text x=".8" y="14.9">String</text><text x="13.8" y="14.9">title</text>
<rect class="rb" y="16" width="31" height="4"/><text x=".8" y="18.9">String</text><text x="13.8" y="18.9">department</text><text class="k" x="27.6" y="18.9">?</text>
<rect class="ra" y="20" width="31" height="4"/><text x=".8" y="22.9">String</text><text x="13.8" y="22.9">company</text><text class="k" x="27.6" y="22.9">?</text>
<rect class="rb" y="24" width="31" height="4"/><text x=".8" y="26.9">Int</text><text x="13.8" y="26.9">employees</text>
<rect class="ra" y="28" width="31" height="4"/><text x=".8" y="30.9">Int</text><text x="13.8" y="30.9">team_size</text>
<rect class="rb" y="32" width="31" height="4"/><text x=".8" y="34.9">String</text><text x="13.8" y="34.9">industry</text><text class="k" x="27.6" y="34.9">?</text>
<rect class="ra" y="36" width="31" height="4"/><text x=".8" y="38.9">String</text><text x="13.8" y="38.9">website</text>
<rect class="rb" y="40" width="31" height="4"/><text x=".8" y="42.9">String</text><text x="13.8" y="42.9">location</text><text class="k" x="27.6" y="42.9">?</text>
<rect class="ra" y="44" width="31" height="4"/><text x=".8" y="46.9">String</text><text x="13.8" y="46.9">job_role</text><text class="k" x="27.6" y="46.9">?</text>
<rect class="rb" y="48" width="31" height="4"/><text x=".8" y="50.9">String</text><text x="13.8" y="50.9">phone</text>
<rect class="ra" y="52" width="31" height="4"/><text x=".8" y="54.9">String</text><text x="13.8" y="54.9">language</text><text class="k" x="27.6" y="54.9">?</text>
<rect class="rb" y="56" width="31" height="4"/><text x=".8" y="58.9">String</text><text x="13.8" y="58.9">theme</text>
<rect class="ra" y="60" width="31" height="4"/><text x=".8" y="62.9">String</text><text x="13.8" y="62.9">source</text>
<rect class="rb" y="64" width="31" height="4"/><text x=".8" y="66.9">DateTime</text><text x="13.8" y="66.9">created_at</text>
<rect class="ra" y="68" width="31" height="4"/><text x=".8" y="70.9">DateTime</text><text x="13.8" y="70.9">updated_at</text>
<path class="cl" d="M13,4V72M27,4V72"/><rect class="ob" width="31" height="72"/>
</g>

<g id="notification_type" transform="translate(47,369)">
<rect class="hd" width="34" height="4"/><text class="h" x="17" y="3">notification_type</text>
<rect class="ra" y="4" width="34" height="4"/><text x=".8" y="6.9">COMMENT</text><text x="17.8" y="6.9">COMMENT</text>
<rect class="rb" y="8" width="34" height="4"/><text x=".8" y="10.9">MENTION</text><text x="17.8" y="10.9">MENTION</text>
<rect class="ra" y="12" width="34" height="4"/><text x=".8" y="14.9">SHARE_REQUEST</text><text x="17.8" y="14.9">SHARE_REQUEST</text>
<rect class="rb" y="16" width="34" height="4"/><text x=".8" y="18.9">SHARE_ACCEPT</text><text x="17.8" y="18.9">SHARE_ACCEPT</text>
<rect class="ra" y="20" width="34" height="4"/><text x=".8" y="22.9">SHARE_REJECT</text><text x="17.8" y="22.9">SHARE_REJECT</text>
<rect class="rb" y="24" width="34" height="4"/><text x=".8" y="26.9">INVITE</text><text x="17.8" y="26.9">INVITE</text>
<rect class="ra" y="28" width="34" height="4"/><text x=".8" y="30.9">SYSTEM</text><text x="17.8" y="30.9">SYSTEM</text>
<rect class="rb" y="32" width="34" height="4"/><text x=".8" y="34.9">REMINDER</text><text x="17.8" y="34.9">REMINDER</text>
<rect class="ra" y="36" width="34" height="4"/><text x=".8" y="38.9">DOC_UPDATED</text><text x="17.8" y="38.9">DOC_UPDATED</text>
<rect class="rb" y="40" width="34" height="4"/><text x=".8" y="42.9">DOC_DELETED</text><text x="17.8" y="42.9">DOC_DELETED</text>
<rect class="ra" y="44" width="34" height="4"/><text x=".8" y="46.9">SPACE_INVITE</text><text x="17.8" y="46.9">SPACE_INVITE</text>
<rect class="rb" y="48" width="34" height="4"/><text x=".8" y="50.9">ORG_INVITE</text><text x="17.8" y="50.9">ORG_INVITE</text>
<rect class="ra" y="52" width="34" height="4"/><text x=".8" y="54.9">ROLE_CHANGED</text><text x="17.8" y="54.9">ROLE_CHANGED</text>
<rect class="rb" y="56" width="34" height="4"/><text x=".8" y="58.9">ANNOUNCEMENT</text><text x="17.8" y="58.9">ANNOUNCEMENT</text>
<path class="cl" d="M17,4V60"/><rect class="ob" width="34" height="60"/>
</g>

<g id="notification_priority" transform="translate(98,388)">
<rect class="hd" width="25" height="4"/><text class="h" x="12.5" y="3">notification_priority</text>
<rect class="ra" y="4" width="25" height="4"/><text x=".8" y="6.9">LOW</text><text x="13.3" y="6.9">LOW</text>
<rect class="rb" y="8" width="25" height="4"/><text x=".8" y="10.9">NORMAL</text><text x="13.3" y="10.9">NORMAL</text>
<rect class="ra" y="12" width="25" height="4"/><text x=".8" y="14.9">HIGH</text><text x="13.3" y="14.9">HIGH</text>
<rect class="rb" y="16" width="25" height="4"/><text x=".8" y="18.9">URGENT</text><text x="13.3" y="18.9">URGENT</text>
<path class="cl" d="M12.5,4V20"/><rect class="ob" width="25" height="20"/>
</g>

<g id="push_status" transform="translate(140,386)">
<rect class="hd" width="29" height="4"/><text class="h" x="14.5" y="3">push_status</text>
<rect class="ra" y="4" width="29" height="4"/><text x=".8" y="6.9">PENDING</text><text x="15.3" y="6.9">PENDING</text>
<rect class="rb" y="8" width="29" height="4"/><text x=".8" y="10.9">SENT</text><text x="15.3" y="10.9">SENT</text>
<rect class="ra" y="12" width="29" height="4"/><text x=".8" y="14.9">FAILED</text><text x="15.3" y="14.9">FAILED</text>
<rect class="rb" y="16" width="29" height="4"/><text x=".8" y="18.9">SKIPPED</text><text x="15.3" y="18.9">SKIPPED</text>
<rect class="ra" y="20" width="29" height="4"/><text x=".8" y="22.9">QUEUED</text><text x="15.3" y="22.9">QUEUED</text>
<path class="cl" d="M14.5,4V24"/><rect class="ob" width="29" height="24"/>
</g>

<g id="document_comment" transform="translate(198,382)">
<rect class="hd" width="28" height="4"/><text class="h" x="14" y="3">document_comment</text>
<rect class="ra" y="4" width="28" height="4"/><text x=".8" y="6.9">Int</text><text x="11.8" y="6.9">id</text><text x="24.6" y="6.9">PK</text>
<rect class="rb" y="8" width="28" height="4"/><text x=".8" y="10.9">String</text><text x="11.8" y="10.9">content</text>
<rect class="ra" y="12" width="28" height="4"/><text x=".8" y="14.9">Int</text><text x="11.8" y="14.9">user_id</text><text class="k" x="24.6" y="14.9">FK</text>
<rect class="rb" y="16" width="28" height="4"/><text x=".8" y="18.9">Int</text><text x="11.8" y="18.9">doc_id</text><text class="k" x="24.6" y="18.9">FK</text>
<rect class="ra" y="20" width="28" height="4"/><text x=".8" y="22.9">DateTime</text><text x="11.8" y="22.9">created_at</text>
<rect class="rb" y="24" width="28" height="4"/><text x=".8" y="26.9">DateTime</text><text x="11.8" y="26.9">updated_at</text>
<rect class="ra" y="28" width="28" height="4"/><text x=".8" y="30.9">Boolean</text><text x="11.8" y="30.9">resolved</text>
<path class="cl" d="M11,4V32M24,4V32"/><rect class="ob" width="28" height="32"/>
</g>

<g id="share_request" transform="translate(345,384)">
<rect class="hd" width="37" height="4"/><text class="h" x="18.5" y="3">share_request</text>
<rect class="ra" y="4" width="37" height="4"/><text x=".8" y="6.9">Int</text><text x="16.8" y="6.9">id</text><text x="33.6" y="6.9">PK</text>
<rect class="rb" y="8" width="37" height="4"/><text x=".8" y="10.9">Permission</text><text x="16.8" y="10.9">permission</text>
<rect class="ra" y="12" width="37" height="4"/><text x=".8" y="14.9">String</text><text x="16.8" y="14.9">message</text><text class="k" x="33.6" y="14.9">?</text>
<rect class="rb" y="16" width="37" height="4"/><text x=".8" y="18.9">DateTime</text><text x="16.8" y="18.9">created_at</text>
<rect class="ra" y="20" width="37" height="4"/><text x=".8" y="22.9">DateTime</text><text x="16.8" y="22.9">updated_at</text>
<rect class="rb" y="24" width="37" height="4"/><text x=".8" y="26.9">DateTime</text><text x="16.8" y="26.9">reviewed_at</text><text class="k" x="33.6" y="26.9">?</text>
<path class="cl" d="M16,4V28M33,4V28"/><rect class="ob" width="37" height="28"/>
</g>

<g id="share_request_status" transform="translate(351,455)">
<rect class="hd" width="26" height="4"/><text class="h" x="13" y="3">share_request_status</text>
<rect class="ra" y="4" width="26" height="4"/><text x=".8" y="6.9">PENDING</text><text x="13.8" y="6.9">PENDING</text>
<rect class="rb" y="8" width="26" height="4"/><text x=".8" y="10.9">APPROVED</text><text x="13.8" y="10.9">APPROVED</text>
<rect class="ra" y="12" width="26" height="4"/><text x=".8" y="14.9">REJECTED</text><text x="13.8" y="14.9">REJECTED</text>
<rect class="rb" y="16" width="26" height="4"/><text x=".8" y="18.9">CANCELED</text><text x="13.8" y="18.9">CANCELED</text>
<rect class="ra" y="20" width="26" height="4"/><text x=".8" y="22.9">EXPIRED</text><text x="13.8" y="22.9">EXPIRED</text>
<path class="cl" d="M13,4V24"/><rect class="ob" width="26" height="24"/>
</g>

<g id="user_shared_document" transform="translate(538,382)">
<rect class="hd" width="35" height="4"/><text class="h" x="17.5" y="3">user_shared_document</text>
<rect class="ra" y="4" width="35" height="4"/><text x=".8" y="6.9">Int</text><text x="15.8" y="6.9">id</text><text x="31.6" y="6.9">PK</text>
<rect class="rb" y="8" width="35" height="4"/><text x=".8" y="10.9">Permission</text><text x="15.8" y="10.9">permission</text>
<rect class="ra" y="12" width="35" height="4"/><text x=".8" y="14.9">DateTime</text><text x="15.8" y="14.9">shared_at</text>
<rect class="rb" y="16" width="35" height="4"/><text x=".8" y="18.9">DateTime</text><text x="15.8" y="18.9">last_viewed</text>
<rect class="ra" y="20" width="35" height="4"/><text x=".8" y="22.9">Int</text><text x="15.8" y="22.9">view_count</text>
<rect class="rb" y="24" width="35" height="4"/><text x=".8" y="26.9">Boolean</text><text x="15.8" y="26.9">is_starred</text>
<rect class="ra" y="28" width="35" height="4"/><text x=".8" y="30.9">String</text><text x="15.8" y="30.9">note</text><text class="k" x="31.6" y="30.9">?</text>
<path class="cl" d="M15,4V32M31,4V32"/><rect class="ob" width="35" height="32"/>
</g>

<g id="permission_level" transform="translate(604,455)">
<rect class="hd" width="22" height="4"/><text class="h" x="11" y="3">permission_level</text>
<rect class="ra" y="4" width="22" height="4"/><text x=".8" y="6.9">VIEW</text><text x="11.8" y="6.9">VIEW</text>
<rect class="rb" y="8" width="22" height="4"/><text x=".8" y="10.9">COMMENT</text><text x="11.8" y="10.9">COMMENT</text>
<rect class="ra" y="12" width="22" height="4"/><text x=".8" y="14.9">EDIT</text><text x="11.8" y="14.9">EDIT</text>
<rect class="rb" y="16" width="22" height="4"/><text x=".8" y="18.9">MANAGE</text><text x="11.8" y="18.9">MANAGE</text>
<rect class="ra" y="20" width="22" height="4"/><text x=".8" y="22.9">FULL</text><text x="11.8" y="22.9">FULL</text>
<path class="cl" d="M11,4V24"/><rect class="ob" width="22" height="24"/>
</g>

<g id="document_share_link" transform="translate(558,300)">
<rect class="hd" width="30" height="4"/><text class="h" x="15" y="3">document_share_link</text>
<rect class="ra" y="4" width="30" height="4"/><text x=".8" y="6.9">String</text><text x="13.8" y="6.9">id</text><text x="26.6" y="6.9">PK</text>
<rect class="rb" y="8" width="30" height="4"/><text x=".8" y="10.9">Permission</text><text x="13.8" y="10.9">permission</text>
<rect class="ra" y="12" width="30" height="4"/><text x=".8" y="14.9">String</text><text x="13.8" y="14.9">password</text><text class="k" x="26.6" y="14.9">?</text>
<rect class="rb" y="16" width="30" height="4"/><text x=".8" y="18.9">DateTime</text><text x="13.8" y="18.9">expires_at</text><text class="k" x="26.6" y="18.9">?</text>
<rect class="ra" y="20" width="30" height="4"/><text x=".8" y="22.9">DateTime</text><text x="13.8" y="22.9">created_at</text>
<rect class="rb" y="24" width="30" height="4"/><text x=".8" y="26.9">DateTime</text><text x="13.8" y="26.9">updated_at</text>
<path class="cl" d="M13,4V28M26,4V28"/><rect class="ob" width="30" height="28"/>
</g>

<g id="document_acl" transform="translate(645,304)">
<rect class="hd" width="31" height="4"/><text class="h" x="15.5" y="3">document_acl</text>
<rect class="ra" y="4" width="31" height="4"/><text x=".8" y="6.9">Int</text><text x="14.8" y="6.9">id</text><text x="27.6" y="6.9">PK</text>
<rect class="rb" y="8" width="31" height="4"/><text x=".8" y="10.9">Permission</text><text x="14.8" y="10.9">permission</text>
<rect class="ra" y="12" width="31" height="4"/><text x=".8" y="14.9">DateTime</text><text x="14.8" y="14.9">created_at</text>
<rect class="rb" y="16" width="31" height="4"/><text x=".8" y="18.9">DateTime</text><text x="14.8" y="18.9">updated_at</text>
<path class="cl" d="M14,4V20M27,4V20"/><rect class="ob" width="31" height="20"/>
</g>

<g id="organization" transform="translate(804,376)">
<rect class="hd" width="27" height="4"/><text class="h" x="13.5" y="3">organization</text>
<rect class="ra" y="4" width="27" height="4"/><text x=".8" y="6.9">Int</text><text x="11.8" y="6.9">id</text><text x="23.6" y="6.9">PK</text>
<rect class="rb" y="8" width="27" height="4"/><text x=".8" y="10.9">String</text><text x="11.8" y="10.9">name</text>
<rect class="ra" y="12" width="27" height="4"/><text x=".8" y="14.9">String</text><text x="11.8" y="14.9">slug</text><text class="k" x="23.6" y="14.9">?</text>
<rect class="rb" y="16" width="27" height="4"/><text x=".8" y="18.9">String</text><text x="11.8" y="18.9">description</text><text class="k" x="23.6" y="18.9">?</text>
<rect class="ra" y="20" width="27" height="4"/><text x=".8" y="22.9">String</text><text x="11.8" y="22.9">logo_url</text><text class="k" x="23.6" y="22.9">?</text>
<rect class="rb" y="24" width="27" height="4"/><text x=".8" y="26.9">String</text><text x="11.8" y="26.9">website</text><text class="k" x="23.6" y="26.9">?</text>
<rect class="ra" y="28" width="27" height="4"/><text x=".8" y="30.9">Boolean</text><text x="11.8" y="30.9">verified</text>
<rect class="rb" y="32" width="27" height="4"/><text x=".8" y="34.9">Boolean</text><text x="11.8" y="34.9">is_public</text>
<rect class="ra" y="36" width="27" height="4"/><text x=".8" y="38.9">DateTime</text><text x="11.8" y="38.9">created_at</text>
<rect class="rb" y="40" width="27" height="4"/><text x=".8" y="42.9">DateTime</text><text x="11.8" y="42.9">updated_at</text>
<path class="cl" d="M11,4V44M23,4V44"/><rect class="ob" width="27" height="44"/>
</g>

<g id="organization_member" transform="translate(705,453)">
<rect class="hd" width="31" height="4"/><text class="h" x="15.5" y="3">organization_member</text>
<rect class="ra" y="4" width="31" height="4"/><text x=".8" y="6.9">Int</text><text x="14.8" y="6.9">id</text><text x="27.6" y="6.9">PK</text>
<rect class="rb" y="8" width="31" height="4"/><text x=".8" y="10.9">OrgRole</text><text x="14.8" y="10.9">role</text>
<rect class="ra" y="12" width="31" height="4"/><text x=".8" y="14.9">String</text><text x="14.8" y="14.9">title</text><text class="k" x="27.6" y="14.9">?</text>
<rect class="rb" y="16" width="31" height="4"/><text x=".8" y="18.9">String</text><text x="14.8" y="18.9">department</text><text class="k" x="27.6" y="18.9">?</text>
<rect class="ra" y="20" width="31" height="4"/><text x=".8" y="22.9">Boolean</text><text x="14.8" y="22.9">is_owner</text>
<rect class="rb" y="24" width="31" height="4"/><text x=".8" y="26.9">DateTime</text><text x="14.8" y="26.9">joined_at</text>
<path class="cl" d="M14,4V28M27,4V28"/><rect class="ob" width="31" height="28"/>
</g>

<g id="organization_join_request" transform="translate(763,451)">
<rect class="hd" width="39" height="4"/><text class="h" x="19.5" y="3">organization_join_request</text>
<rect class="ra" y="4" width="39" height="4"/><text x=".8" y="6.9">Int</text><text x="17.8" y="6.9">id</text><text x="35.6" y="6.9">PK</text>
<rect class="rb" y="8" width="39" height="4"/><text x=".8" y="10.9">String</text><text x="17.8" y="10.9">message</text><text class="k" x="35.6" y="10.9">?</text>
<rect class="ra" y="12" width="39" height="4"/><text x=".8" y="14.9">JoinStatus</text><text x="17.8" y="14.9">status</text>
<rect class="rb" y="16" width="39" height="4"/><text x=".8" y="18.9">String</text><text x="17.8" y="18.9">review_note</text><text class="k" x="35.6" y="18.9">?</text>
<rect class="ra" y="20" width="39" height="4"/><text x=".8" y="22.9">DateTime</text><text x="17.8" y="22.9">created_at</text>
<rect class="rb" y="24" width="39" height="4"/><text x=".8" y="26.9">DateTime</text><text x="17.8" y="26.9">updated_at</text>
<rect class="ra" y="28" width="39" height="4"/><text x=".8" y="30.9">DateTime</text><text x="17.8" y="30.9">reviewed_at</text><text class="k" x="35.6" y="30.9">?</text>
<path class="cl" d="M17,4V32M35,4V32"/><rect class="ob" width="39" height="32"/>
</g>

<g id="organization_invite" transform="translate(828,453)">
<rect class="hd" width="30" height="4"/><text class="h" x="15" y="3">organization_invite</text>
<rect class="ra" y="4" width="30" height="4"/><text x=".8" y="6.9">Int</text><text x="13.8" y="6.9">id</text><text x="26.6" y="6.9">PK</text>
<rect class="rb" y="8" width="30" height="4"/><text x=".8" y="10.9">String</text><text x="13.8" y="10.9">email</text>
<rect class="ra" y="12" width="30" height="4"/><text x=".8" y="14.9">Boolean</text><text x="13.8" y="14.9">accepted</text>
<rect class="rb" y="16" width="30" height="4"/><text x=".8" y="18.9">String</text><text x="13.8" y="18.9">token</text><text class="k" x="26.6" y="18.9">?</text>
<rect class="ra" y="20" width="30" height="4"/><text x=".8" y="22.9">DateTime</text><text x="13.8" y="22.9">created_at</text>
<rect class="rb" y="24" width="30" height="4"/><text x=".8" y="26.9">DateTime</text><text x="13.8" y="26.9">expires_at</text><text class="k" x="26.6" y="26.9">?</text>
<path class="cl" d="M13,4V28M26,4V28"/><rect class="ob" width="30" height="28"/>
</g>

<g id="space" transform="translate(943,445)">
<rect class="hd" width="27" height="4"/><text class="h" x="13.5" y="3">space</text>
<rect class="ra" y="4" width="27" height="4"/><text x=".8" y="6.9">Int</text><text x="11.8" y="6.9">id</text><text x="23.6" y="6.9">PK</text>
<rect class="rb" y="8" width="27" height="4"/><text x=".8" y="10.9">String</text><text x="11.8" y="10.9">name</text>
<rect class="ra" y="12" width="27" height="4"/><text x=".8" y="14.9">String</text><text x="11.8" y="14.9">description</text><text class="k" x="23.6" y="14.9">?</text>
<rect class="rb" y="16" width="27" height="4"/><text x=".8" y="18.9">String</text><text x="11.8" y="18.9">icon</text><text class="k" x="23.6" y="18.9">?</text>
<rect class="ra" y="20" width="27" height="4"/><text x=".8" y="22.9">String</text><text x="11.8" y="22.9">color</text><text class="k" x="23.6" y="22.9">?</text>
<rect class="rb" y="24" width="27" height="4"/><text x=".8" y="26.9">SpaceType</text><text x="11.8" y="26.9">type</text>
<rect class="ra" y="28" width="27" height="4"/><text x=".8" y="30.9">Boolean</text><text x="11.8" y="30.9">archived</text>
<rect class="rb" y="32" width="27" height="4"/><text x=".8" y="34.9">Boolean</text><text x="11.8" y="34.9">is_public</text>
<rect class="ra" y="36" width="27" height="4"/><text x=".8" y="38.9">DateTime</text><text x="11.8" y="38.9">created_at</text>
<rect class="rb" y="40" width="27" height="4"/><text x=".8" y="42.9">DateTime</text><text x="11.8" y="42.9">updated_at</text>
<path class="cl" d="M11,4V44M23,4V44"/><rect class="ob" width="27" height="44"/>
</g>

<g id="space_member" transform="translate(926,506)">
<rect class="hd" width="26" height="4"/><text class="h" x="13" y="3">space_member</text>
<rect class="ra" y="4" width="26" height="4"/><text x=".8" y="6.9">Int</text><text x="11.8" y="6.9">id</text><text x="22.6" y="6.9">PK</text>
<rect class="rb" y="8" width="26" height="4"/><text x=".8" y="10.9">SpaceRole</text><text x="11.8" y="10.9">role</text>
<rect class="ra" y="12" width="26" height="4"/><text x=".8" y="14.9">DateTime</text><text x="11.8" y="14.9">joined_at</text>
<rect class="rb" y="16" width="26" height="4"/><text x=".8" y="18.9">DateTime</text><text x="11.8" y="18.9">updated_at</text>
<path class="cl" d="M11,4V20M22,4V20"/><rect class="ob" width="26" height="20"/>
</g>

<g id="space_type" transform="translate(823,508)">
<rect class="hd" width="23" height="4"/><text class="h" x="11.5" y="3">space_type</text>
<rect class="ra" y="4" width="23" height="4"/><text x=".8" y="6.9">PERSONAL</text><text x="12.3" y="6.9">PERSONAL</text>
<rect class="rb" y="8" width="23" height="4"/><text x=".8" y="10.9">TEAM</text><text x="12.3" y="10.9">TEAM</text>
<rect class="ra" y="12" width="23" height="4"/><text x=".8" y="14.9">PUBLIC</text><text x="12.3" y="14.9">PUBLIC</text>
<path class="cl" d="M11.5,4V16"/><rect class="ob" width="23" height="16"/>
</g>

<g id="space_document" transform="translate(1032,509)">
<rect class="hd" width="25" height="4"/><text class="h" x="12.5" y="3">space_document</text>
<rect class="ra" y="4" width="25" height="4"/><text x=".8" y="6.9">Int</text><text x="10.8" y="6.9">id</text><text x="21.6" y="6.9">PK</text>
<rect class="rb" y="8" width="25" height="4"/><text x=".8" y="10.9">DateTime</text><text x="10.8" y="10.9">added_at</text>
<path class="cl" d="M10,4V12M21,4V12"/><rect class="ob" width="25" height="12"/>
</g>

<g id="join_request_status" transform="translate(770,506)">
<rect class="hd" width="25" height="4"/><text class="h" x="12.5" y="3">join_request_status</text>
<rect class="ra" y="4" width="25" height="4"/><text x=".8" y="6.9">PENDING</text><text x="13.3" y="6.9">PENDING</text>
<rect class="rb" y="8" width="25" height="4"/><text x=".8" y="10.9">APPROVED</text><text x="13.3" y="10.9">APPROVED</text>
<rect class="ra" y="12" width="25" height="4"/><text x=".8" y="14.9">REJECTED</text><text x="13.3" y="14.9">REJECTED</text>
<rect class="rb" y="16" width="25" height="4"/><text x=".8" y="18.9">EXPIRED</text><text x="13.3" y="18.9">EXPIRED</text>
<path class="cl" d="M12.5,4V20"/><rect class="ob" width="25" height="20"/>
</g>

<g id="organization_role" transform="translate(709,506)">
<rect class="hd" width="23" height="4"/><text class="h" x="11.5" y="3">organization_role</text>
<rect class="ra" y="4" width="23" height="4"/><text x=".8" y="6.9">OWNER</text><text x="12.3" y="6.9">OWNER</text>
<rect class="rb" y="8" width="23" height="4"/><text x=".8" y="10.9">ADMIN</text><text x="12.3" y="10.9">ADMIN</text>
<rect class="ra" y="12" width="23" height="4"/><text x=".8" y="14.9">MEMBER</text><text x="12.3" y="14.9">MEMBER</text>
<rect class="rb" y="16" width="23" height="4"/><text x=".8" y="18.9">GUEST</text><text x="12.3" y="18.9">GUEST</text>
<path class="cl" d="M11.5,4V20"/><rect class="ob" width="23" height="20"/>
</g>

<g id="space_role" transform="translate(930,543)">
<rect class="hd" width="18" height="4"/><text class="h" x="9" y="3">space_role</text>
<rect class="ra" y="4" width="18" height="4"/><text x=".8" y="6.9">OWNER</text><text x="9.8" y="6.9">OWNER</text>
<rect class="rb" y="8" width="18" height="4"/><text x=".8" y="10.9">ADMIN</text><text x="9.8" y="10.9">ADMIN</text>
<rect class="ra" y="12" width="18" height="4"/><text x=".8" y="14.9">EDITOR</text><text x="9.8" y="14.9">EDITOR</text>
<rect class="rb" y="16" width="18" height="4"/><text x=".8" y="18.9">VIEWER</text><text x="9.8" y="18.9">VIEWER</text>
<rect class="ra" y="20" width="18" height="4"/><text x=".8" y="22.9">GUEST</text><text x="9.8" y="22.9">GUEST</text>
<path class="cl" d="M9,4V24"/><rect class="ob" width="18" height="24"/>
</g>
</svg>
